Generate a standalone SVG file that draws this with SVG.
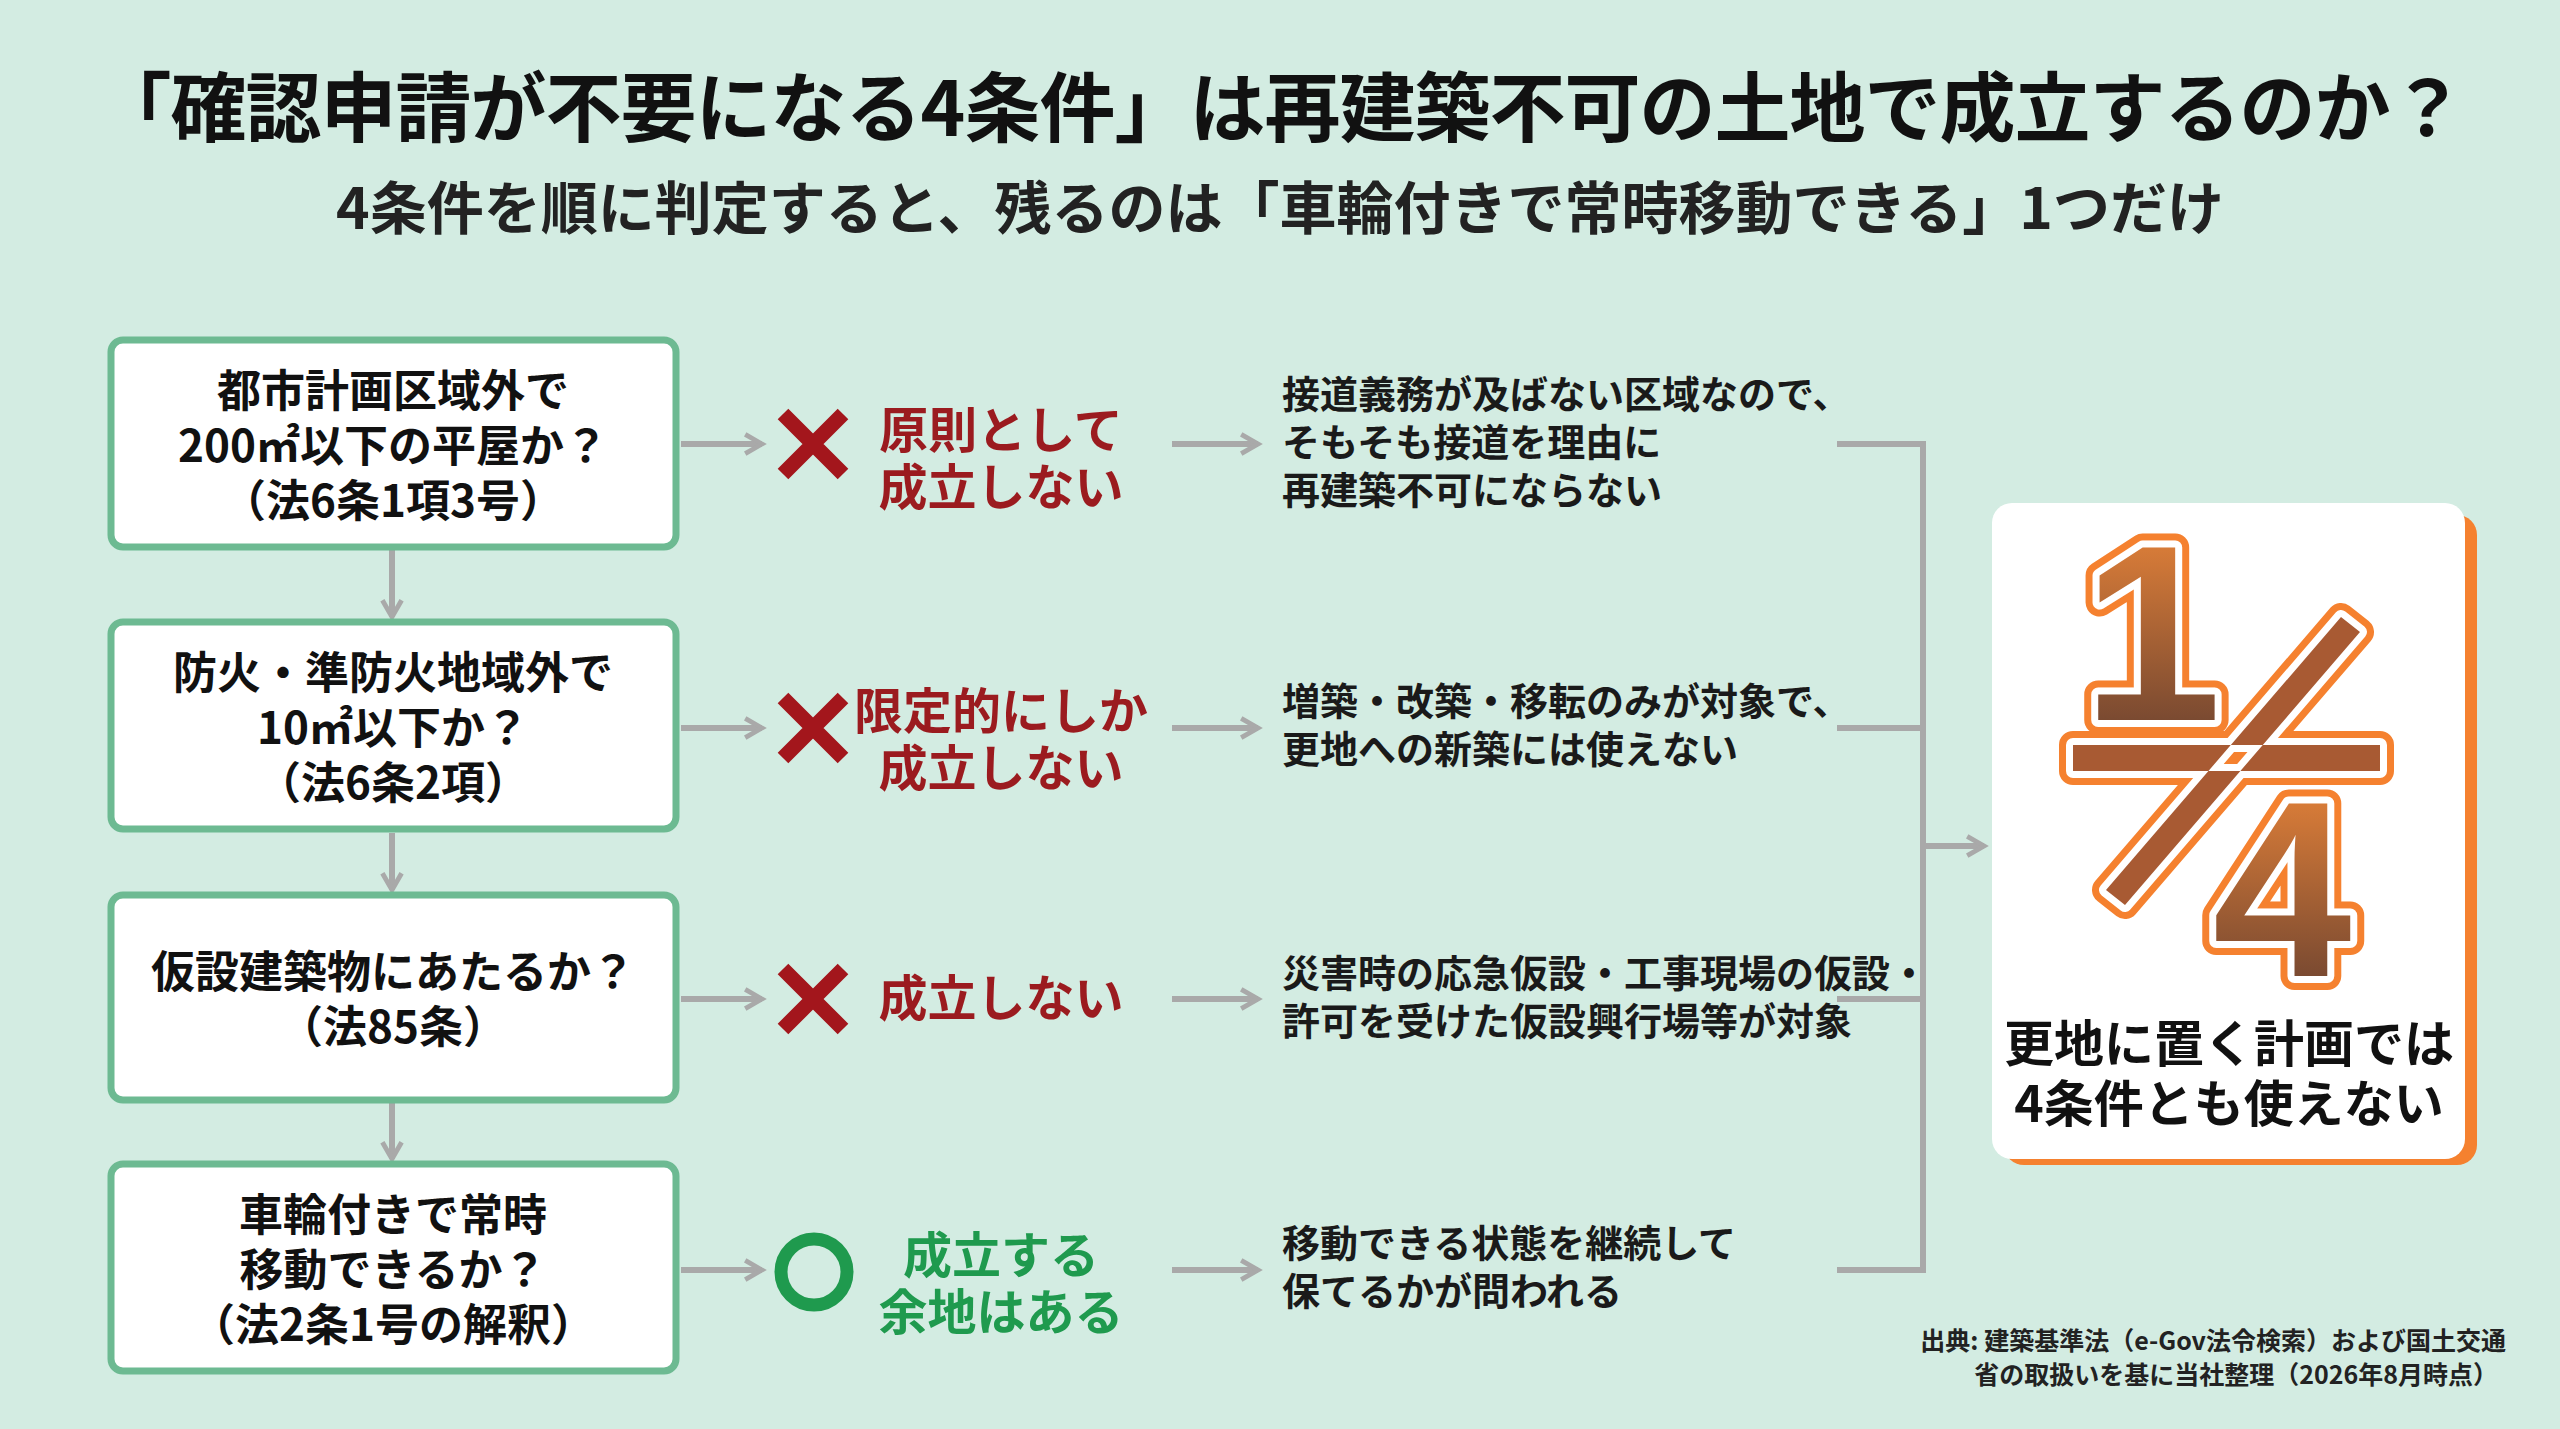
<svg xmlns="http://www.w3.org/2000/svg" width="2560" height="1429" viewBox="0 0 2560 1429">
<style>
text{font-family:"Noto Sans CJK JP","Noto Sans",sans-serif;font-weight:700}
.box{fill:#fff;stroke:#6dba92;stroke-width:7}
.bt{font-size:44px;fill:#111;text-anchor:middle}
.rt{font-size:49px;fill:#9b1b1f;text-anchor:middle}
.gt{font-size:49px;fill:#1f9a4e;text-anchor:middle}
.dt{font-size:38px;fill:#1a1a1a}
.ln{stroke:#a9a9a9;stroke-width:6;fill:none}
.x{stroke:#a3161c;stroke-width:15;stroke-linecap:butt}
.big{font-size:250px;font-family:"Liberation Sans",sans-serif;font-weight:700;text-anchor:middle}
</style>
<defs>
<marker id="ah" viewBox="0 0 10 10" refX="8" refY="5" markerWidth="4" markerHeight="4" orient="auto"><path d="M1,1 L8,5 L1,9" fill="none" stroke="#a9a9a9" stroke-width="2"/></marker>
<linearGradient id="og" x1="0" y1="0" x2="0" y2="1"><stop offset="0" stop-color="#f38a3a"/><stop offset="1" stop-color="#5e3b2f"/></linearGradient>
</defs>
<rect width="2560" height="1429" fill="#d3ece2"/>
<text x="1280" y="136" text-anchor="middle" font-size="76" fill="#111" letter-spacing="-1">「確認申請が不要になる4条件」は再建築不可の土地で成立するのか？</text>
<text x="1280" y="229" text-anchor="middle" font-size="57" fill="#222">4条件を順に判定すると、残るのは「車輪付きで常時移動できる」1つだけ</text>
<g id="connectors">
<path class="ln" marker-end="url(#ah)" d="M392,550 V617"/>
<path class="ln" marker-end="url(#ah)" d="M392,833 V890"/>
<path class="ln" marker-end="url(#ah)" d="M392,1103 V1159"/>
<path class="ln" marker-end="url(#ah)" d="M681,444 H762"/>
<path class="ln" marker-end="url(#ah)" d="M681,728 H762"/>
<path class="ln" marker-end="url(#ah)" d="M681,999 H762"/>
<path class="ln" marker-end="url(#ah)" d="M681,1270 H762"/>
<path class="ln" marker-end="url(#ah)" d="M1172,444 H1258"/>
<path class="ln" marker-end="url(#ah)" d="M1172,728 H1258"/>
<path class="ln" marker-end="url(#ah)" d="M1172,999 H1258"/>
<path class="ln" marker-end="url(#ah)" d="M1172,1270 H1258"/>
<path class="ln" d="M1837,444 H1923 V1270 H1837 M1837,728 H1923 M1837,999 H1923"/>
<path class="ln" marker-end="url(#ah)" d="M1923,846 H1984"/>
</g>
<g id="n1"><rect class="box" x="111" y="340" width="565" height="207" rx="12"/>
<text class="bt" x="393" y="407">都市計画区域外で</text><text class="bt" x="393" y="462">200㎡以下の平屋か？</text><text class="bt" x="393" y="517">（法6条1項3号）</text></g>
<g id="n2"><rect class="box" x="111" y="622" width="565" height="207" rx="12"/>
<text class="bt" x="393" y="689">防火・準防火地域外で</text><text class="bt" x="393" y="744">10㎡以下か？</text><text class="bt" x="393" y="799">（法6条2項）</text></g>
<g id="n3"><rect class="box" x="111" y="895" width="565" height="205" rx="12"/>
<text class="bt" x="393" y="988">仮設建築物にあたるか？</text><text class="bt" x="393" y="1043">（法85条）</text></g>
<g id="n4"><rect class="box" x="111" y="1164" width="565" height="207" rx="12"/>
<text class="bt" x="393" y="1231">車輪付きで常時</text><text class="bt" x="393" y="1286">移動できるか？</text><text class="bt" x="393" y="1341">（法2条1号の解釈）</text></g>
<g id="r1"><path class="x" d="M783,414 L843,474 M843,414 L783,474"/>
<text class="rt" x="1001" y="448">原則として</text><text class="rt" x="1001" y="505">成立しない</text></g>
<g id="r2"><path class="x" d="M783,698 L843,758 M843,698 L783,758"/>
<text class="rt" x="1001" y="729">限定的にしか</text><text class="rt" x="1001" y="786">成立しない</text></g>
<g id="r3"><path class="x" d="M783,969 L843,1029 M843,969 L783,1029"/>
<text class="rt" x="1001" y="1016">成立しない</text></g>
<g id="r4"><circle cx="814" cy="1272" r="33" fill="none" stroke="#1f9a4e" stroke-width="13"/>
<text class="gt" x="1001" y="1273">成立する</text><text class="gt" x="1001" y="1330">余地はある</text></g>
<g id="d1"><text class="dt" x="1282" y="408">接道義務が及ばない区域なので、</text><text class="dt" x="1282" y="456">そもそも接道を理由に</text><text class="dt" x="1282" y="504">再建築不可にならない</text></g>
<g id="d2"><text class="dt" x="1282" y="715">増築・改築・移転のみが対象で、</text><text class="dt" x="1282" y="763">更地への新築には使えない</text></g>
<g id="d3"><text class="dt" x="1282" y="987">災害時の応急仮設・工事現場の仮設・</text><text class="dt" x="1282" y="1035">許可を受けた仮設興行場等が対象</text></g>
<g id="d4"><text class="dt" x="1282" y="1257">移動できる状態を継続して</text><text class="dt" x="1282" y="1305">保てるかが問われる</text></g>
<g id="result">
<rect x="2004" y="515" width="473" height="650" rx="20" fill="#f5812f"/>
<rect x="1992" y="503" width="473" height="656" rx="20" fill="#fff"/>
<g stroke-linejoin="round">
<text class="big" x="2152" y="720" fill="none" stroke="#f5812f" stroke-width="28">1</text>
<text class="big" x="2152" y="720" fill="none" stroke="#fff" stroke-width="14">1</text>
<text class="big" x="2152" y="720" fill="url(#og)">1</text>
<path d="M2073,745 H2380 V771 H2073 Z M2106,890 L2125,905 L2360,632 L2341,617 Z" fill="#f5812f" stroke="#f5812f" stroke-width="28"/>
<path d="M2073,745 H2380 V771 H2073 Z M2106,890 L2125,905 L2360,632 L2341,617 Z" fill="#fff" stroke="#fff" stroke-width="14"/>
<path d="M2073,745 H2380 V771 H2073 Z M2106,890 L2125,905 L2360,632 L2341,617 Z" fill="#a85a33"/>
<text class="big" x="2282" y="976" fill="none" stroke="#f5812f" stroke-width="28">4</text>
<text class="big" x="2282" y="976" fill="none" stroke="#fff" stroke-width="14">4</text>
<text class="big" x="2282" y="976" fill="url(#og)">4</text>
</g>
<text x="2229" y="1062" text-anchor="middle" font-size="50" fill="#111">更地に置く計画では</text>
<text x="2229" y="1122" text-anchor="middle" font-size="50" fill="#111">4条件とも使えない</text>
</g>
<g id="source" fill="#222">
<text x="2506" y="1350" text-anchor="end" style="font-size:25px">出典: 建築基準法（e-Gov法令検索）および国土交通</text>
<text x="2498" y="1384" text-anchor="end" style="font-size:25px">省の取扱いを基に当社整理（2026年8月時点）</text>
</g>
</svg>
